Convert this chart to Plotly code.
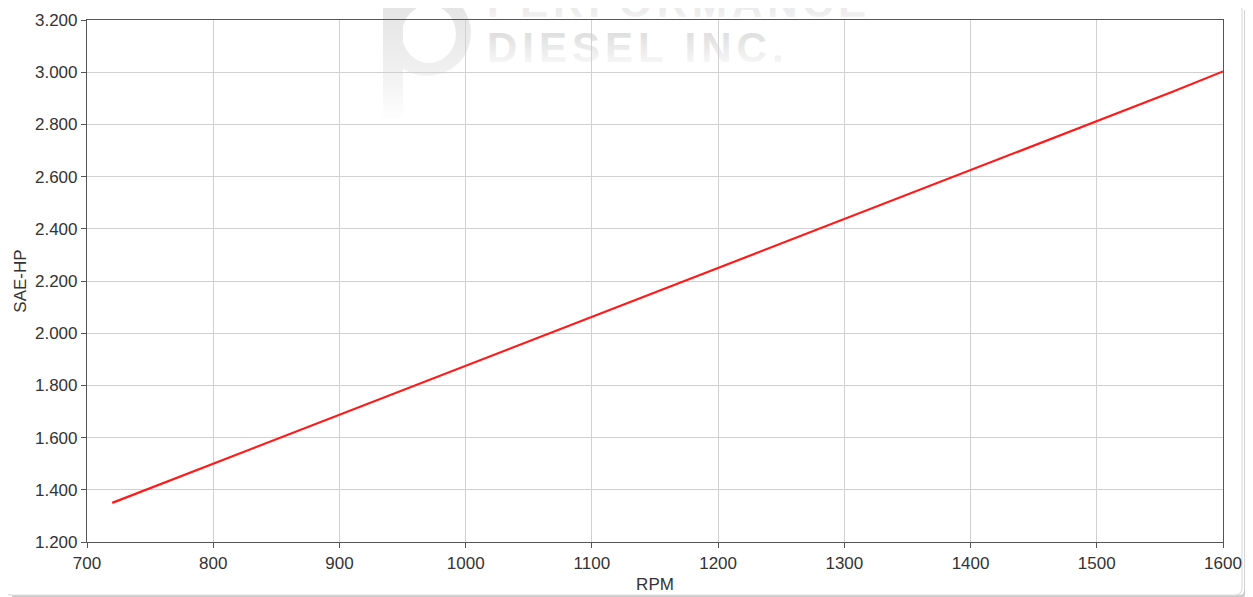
import base64
import plotly.graph_objects as go

rpm = [720, 760, 800, 840, 880, 920, 960, 1000, 1040, 1080, 1120, 1160,
       1200, 1240, 1280, 1320, 1360, 1400, 1440, 1480, 1520, 1560, 1600]
sae_hp = [1.350, 1.425, 1.500, 1.575, 1.650, 1.725, 1.800, 1.875, 1.950, 2.025,
          2.100, 2.175, 2.250, 2.325, 2.400, 2.475, 2.550, 2.625, 2.700, 2.775,
          2.850, 2.925, 3.003]

x_ticks = [700, 800, 900, 1000, 1100, 1200, 1300, 1400, 1500, 1600]
y_ticks = [1.2, 1.4, 1.6, 1.8, 2.0, 2.2, 2.4, 2.6, 2.8, 3.0, 3.2]
y_tick_text = ["1.200", "1.400", "1.600", "1.800", "2.000", "2.200",
               "2.400", "2.600", "2.800", "3.000", "3.200"]

# page has an 8px body margin, so the figure starts at (8, 8)
OFF = 8
W, H = 1253 - OFF, 597 - OFF
L, R, T, B = 87 - OFF, 30, 20 - OFF, 55
pw, ph = W - L - R, H - T - B

FONT = "Liberation Sans, Arial, sans-serif"

# watermark (faded logo + company name), drawn in page pixel coordinates
svg = f'''<svg xmlns="http://www.w3.org/2000/svg" width="{W}" height="{H}" viewBox="0 0 {W} {H}">
<defs>
<linearGradient id="g" gradientUnits="userSpaceOnUse" x1="0" y1="30" x2="0" y2="64">
<stop offset="0" stop-color="#dcdcdc"/><stop offset="1" stop-color="#f7f7f7"/>
</linearGradient>
<linearGradient id="g1" gradientUnits="userSpaceOnUse" x1="0" y1="-14" x2="0" y2="18">
<stop offset="0" stop-color="#dadada"/><stop offset="1" stop-color="#f2f2f2"/>
</linearGradient>
<linearGradient id="g2" gradientUnits="userSpaceOnUse" x1="0" y1="-10" x2="0" y2="115">
<stop offset="0" stop-color="#e2e2e2"/><stop offset="0.6" stop-color="#efefef"/><stop offset="1" stop-color="#fdfdfd"/>
</linearGradient>
</defs>
<g transform="translate({-OFF},{-OFF})">
<path d="M383 -20 L403 -20 L403 118 L383 118 Z" fill="url(#g2)"/>
<path d="M383 33 A44 43 0 1 0 471 33 A44 43 0 1 0 383 33 Z M402 34 A27 29 0 1 1 456 34 A27 29 0 1 1 402 34 Z" fill="url(#g2)" fill-rule="evenodd"/>
<text x="487" y="17" font-family="Liberation Sans, Arial, sans-serif" font-weight="bold" font-size="42" letter-spacing="5" fill="url(#g1)">PERFORMANCE</text>
<text x="487" y="62" font-family="Liberation Sans, Arial, sans-serif" font-weight="bold" font-size="42" letter-spacing="5" fill="url(#g)">DIESEL INC.</text>
</g>
</svg>'''
svg_uri = "data:image/svg+xml;base64," + base64.b64encode(svg.encode()).decode()

fig = go.Figure()
fig.add_trace(go.Scatter(x=rpm, y=sae_hp, mode="lines",
                         line=dict(color="#ff1a1a", width=2.2),
                         showlegend=False, hoverinfo="x+y"))

axis_common = dict(showline=True, linecolor="#555555", linewidth=1.2,
                   mirror=True, ticks="outside", ticklen=5, tickcolor="#555555",
                   gridcolor="#d0d0d0", gridwidth=1, zeroline=False,
                   automargin=False,
                   tickfont=dict(family=FONT, size=17, color="#333333"))

fig.update_xaxes(range=[700, 1600], tickvals=x_ticks,
                 title=dict(text="RPM", standoff=6,
                            font=dict(family=FONT, size=17, color="#333333")),
                 **axis_common)
fig.update_yaxes(range=[1.2, 3.2], tickvals=y_ticks, ticktext=y_tick_text,
                 title=dict(text="SAE-HP", standoff=4,
                            font=dict(family=FONT, size=17, color="#333333")),
                 **axis_common)


def fx(px):
    return (px - OFF - L) / pw


def fy(py):
    return 1 - (py - OFF - T) / ph


fig.update_layout(
    width=W, height=H,
    margin=dict(l=L, r=R, t=T, b=B, pad=0),
    paper_bgcolor="white",
    plot_bgcolor="rgba(0,0,0,0)",
    font=dict(family=FONT, color="#333333"),
    images=[dict(source=svg_uri, xref="paper", yref="paper",
                 x=fx(OFF), y=fy(OFF), sizex=W / pw, sizey=H / ph,
                 xanchor="left", yanchor="top", sizing="stretch", layer="below")],
)

# card outline with soft right/bottom shadow (page pixel coordinates)
for x1, y1, col, w in [(1247, 597, "#dadada", 2.5), (1245, 596, "#c4c4c4", 1.5)]:
    fig.add_shape(type="path", xref="paper", yref="paper",
                  path=f"M{fx(12)},{fy(y1)} L{fx(x1-6)},{fy(y1)} "
                       f"Q{fx(x1)},{fy(y1)} {fx(x1)},{fy(y1-6)} L{fx(x1)},{fy(10)}",
                  line=dict(color=col, width=w), layer="below")
fig.add_shape(type="path", xref="paper", yref="paper",
              path=f"M{fx(5)},{fy(590)} Q{fx(5)},{fy(595)} {fx(12)},{fy(595)} "
                   f"L{fx(1235)},{fy(595)} Q{fx(1242)},{fy(595)} {fx(1242)},{fy(588)} "
                   f"L{fx(1242)},{fy(11)} Q{fx(1242)},{fy(3)} {fx(1234)},{fy(3)} "
                   f"L{fx(12)},{fy(3)}",
              line=dict(color="#dcdcdc", width=1.2), layer="below")

fig.write_html("out.html")
